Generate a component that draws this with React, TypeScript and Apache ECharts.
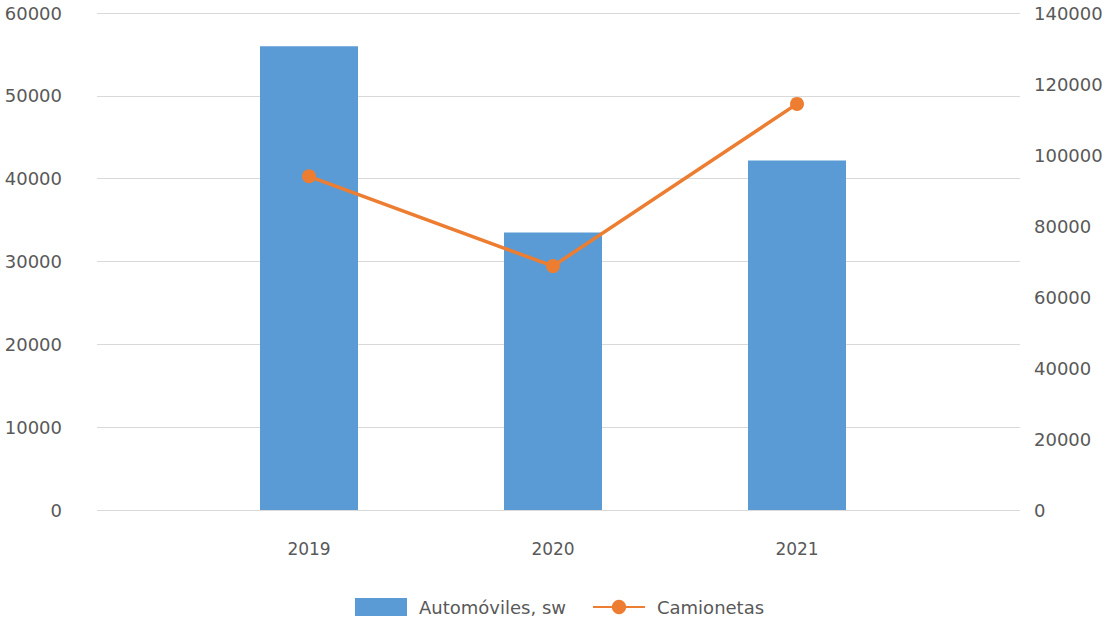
import React, { useEffect, useRef } from "react";
import * as echarts from "echarts";

const categories = ["2019", "2020", "2021"];
const automoviles = [56000, 33500, 42200];
const camionetas = [94000, 68700, 114400];
const leftTicks = { min: 0, max: 60000, interval: 10000 };
const rightTicks = { min: 0, max: 140000, interval: 20000 };

const FONT = "'DejaVu Sans', sans-serif";
const TEXT = "#595959";
const plain = (v: number) => String(v);

export default function App() {
  const ref = useRef<HTMLDivElement>(null);
  useEffect(() => {
    if (!ref.current) return;
    const chart = echarts.init(ref.current, null, { renderer: "svg" });
    chart.setOption({
      animation: false,
      backgroundColor: "#ffffff",
      textStyle: { fontFamily: FONT, color: TEXT },
      legend: {
        left: 350,
        top: 593,
        itemWidth: 52,
        itemHeight: 18,
        itemGap: 26,
        textStyle: { fontFamily: FONT, fontSize: 18, color: TEXT, padding: [0, 0, 0, 7] },
        data: [
          { name: "Automóviles, sw", icon: "rect" },
          { name: "Camionetas" },
        ],
      },
      grid: [
        { left: 97, right: 89, top: 13, bottom: 112 },
        { left: 187, right: 190, top: 13, bottom: 112 },
      ],
      xAxis: [
        {
          type: "category",
          gridIndex: 0,
          data: categories,
          show: false,
        },
        {
          type: "category",
          gridIndex: 1,
          data: categories,
          axisLine: { show: false },
          axisTick: { show: false },
          axisLabel: { fontFamily: FONT, fontSize: 17, color: TEXT, margin: 30 },
        },
      ],
      yAxis: [
        {
          type: "value",
          gridIndex: 0,
          position: "left",
          ...leftTicks,
          axisLine: { show: false },
          axisTick: { show: false },
          axisLabel: { fontFamily: FONT, fontSize: 18, color: TEXT, margin: 35, formatter: plain },
          splitLine: { lineStyle: { color: "#d9d9d9", width: 1 } },
        },
        {
          type: "value",
          gridIndex: 0,
          position: "right",
          ...rightTicks,
          axisLine: { show: false },
          axisTick: { show: false },
          axisLabel: { fontFamily: FONT, fontSize: 18, color: TEXT, margin: 14, formatter: plain },
          splitLine: { show: false },
        },
        { type: "value", gridIndex: 1, ...leftTicks, show: false, splitLine: { show: false } },
        { type: "value", gridIndex: 1, ...rightTicks, show: false, splitLine: { show: false } },
      ],
      series: [
        {
          name: "Automóviles, sw",
          type: "bar",
          xAxisIndex: 1,
          yAxisIndex: 2,
          data: automoviles,
          barWidth: 98,
          itemStyle: { color: "#5B9BD5" },
        },
        {
          name: "Camionetas",
          type: "line",
          xAxisIndex: 1,
          yAxisIndex: 3,
          data: camionetas,
          symbol: "circle",
          symbolSize: 14,
          lineStyle: { color: "#ED7D31", width: 3.5 },
          itemStyle: { color: "#ED7D31" },
        },
      ],
    });
    return () => chart.dispose();
  }, []);
  return (
    <div
      ref={ref}
      style={{ width: 1109, height: 622, position: "absolute", left: 0, top: 0 }}
    />
  );
}
